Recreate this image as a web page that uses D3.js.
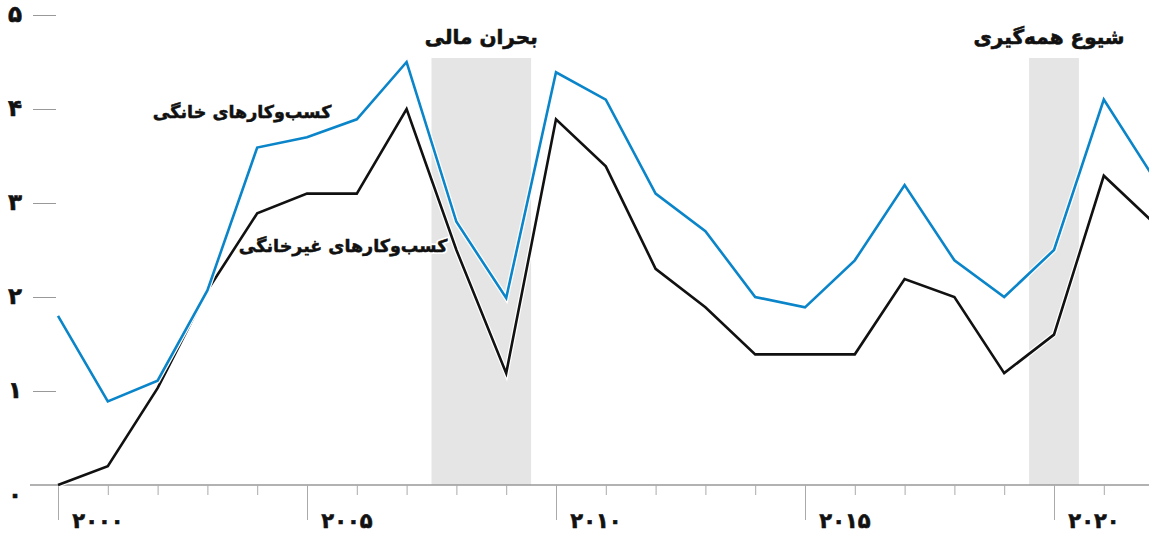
<!DOCTYPE html>
<html lang="fa">
<head>
  <meta charset="UTF-8">
  <title>کسب‌وکارهای خانگی</title>
  <style>
    body { margin: 0; background: #fff; }
    svg { display: block; }
    text { font-family: "DejaVu Sans", sans-serif; font-weight: bold; fill: #111; }
  </style>
</head>
<body>
  <svg id="chart" width="1149" height="533"></svg>
  <script src="https://cdn.jsdelivr.net/npm/d3@7/dist/d3.min.js"></script>
  <script>
    // years and values
    const years = d3.range(2000, 2023);
    const homeBased = [1.8, 0.89, 1.11, 2.07, 3.59, 3.7, 3.89, 4.5, 2.8, 1.99, 4.39, 4.1, 3.1, 2.7, 2.0, 1.89, 2.39, 3.19, 2.39, 2.0, 2.5, 4.1, 3.27];
    const nonHomeBased = [0.0, 0.2, 1.03, 2.07, 2.89, 3.1, 3.1, 4.0, 2.5, 1.19, 3.89, 3.39, 2.3, 1.89, 1.39, 1.39, 1.39, 2.19, 2.0, 1.19, 1.6, 3.29, 2.79];

    const yTicks = [0, 1, 2, 3, 4, 5];
    const yTickLabels = ["۰", "۱", "۲", "۳", "۴", "۵"];
    const majorYears = [2000, 2005, 2010, 2015, 2020];
    const majorYearLabels = ["۲۰۰۰", "۲۰۰۵", "۲۰۱۰", "۲۰۱۵", "۲۰۲۰"];

    const shades = [
      { from: 2007.5, to: 2009.5, label: "بحران مالی", labelAt: 2008.5 },
      { from: 2019.5, to: 2020.5, label: "شیوع همه‌گیری", labelAt: 2019.9 }
    ];

    const svg = d3.select("#chart");
    const x = d3.scaleLinear().domain([2000, 2022]).range([58, 1153.6]);
    const y = d3.scaleLinear().domain([0, 5]).range([485, 15]);

    // shaded periods
    svg.append("g").selectAll("rect").data(shades).join("rect")
      .attr("x", d => x(d.from))
      .attr("width", d => x(d.to) - x(d.from))
      .attr("y", 58)
      .attr("height", y(0) - 58)
      .attr("fill", "#e5e5e5");

    svg.append("g").selectAll("text").data(shades).join("text")
      .attr("x", d => x(d.labelAt))
      .attr("y", 44)
      .attr("text-anchor", "middle")
      .attr("font-size", 20)
      .attr("stroke", "#111").attr("stroke-width", 0.6)
      .text(d => d.label);

    // y axis
    const yAxis = svg.append("g")
      .attr("transform", "translate(56,0)")
      .call(d3.axisLeft(y).tickValues(yTicks.slice(1)).tickSize(23).tickFormat((d, i) => yTickLabels[i + 1]));
    yAxis.select(".domain").remove();
    yAxis.selectAll(".tick line").attr("stroke", "#999");
    yAxis.selectAll(".tick text")
      .attr("x", -41).attr("dy", "0.3em")
      .attr("text-anchor", "middle")
      .attr("font-size", 23)
      .attr("stroke", "#111").attr("stroke-width", 0.6)
      .style("font-family", "DejaVu Sans").style("font-weight", "bold").attr("fill", "#111");
    svg.append("text")
      .attr("x", 15).attr("y", y(0) + 18)
      .attr("text-anchor", "middle")
      .attr("font-size", 23)
      .attr("stroke", "#111").attr("stroke-width", 0.6)
      .text(yTickLabels[0]);

    // x axis
    svg.append("line")
      .attr("x1", 30).attr("x2", 1149)
      .attr("y1", y(0)).attr("y2", y(0))
      .attr("stroke", "#999").attr("stroke-width", 1.5);

    const xAxis = svg.append("g")
      .attr("transform", `translate(0,${y(0)})`)
      .call(d3.axisBottom(x).tickValues(years.slice(0, 22)).tickSize(10).tickFormat(""));
    xAxis.select(".domain").remove();
    xAxis.selectAll(".tick line")
      .attr("stroke", "#aaa")
      .attr("y2", d => majorYears.includes(d) ? 35 : 10);

    svg.append("g").selectAll("text").data(majorYears).join("text")
      .attr("x", d => x(d) + 40)
      .attr("y", 528)
      .attr("text-anchor", "middle")
      .attr("font-size", 21)
      .attr("stroke", "#111").attr("stroke-width", 0.6)
      .text((d, i) => majorYearLabels[i]);

    // lines
    const line = d3.line().x((d, i) => x(years[i])).y(d => y(d));
    const series = [
      { values: nonHomeBased, color: "#111" },
      { values: homeBased, color: "#0a85c9" }
    ];
    series.forEach(s => {
      svg.append("path").datum(s.values)
        .attr("d", line).attr("fill", "none")
        .attr("stroke", "#fff").attr("stroke-width", 5).attr("stroke-linejoin", "miter");
      svg.append("path").datum(s.values)
        .attr("d", line).attr("fill", "none")
        .attr("stroke", s.color).attr("stroke-width", 2.6).attr("stroke-linejoin", "miter");
    });

    // series labels
    const labels = [
      { text: "کسب‌وکارهای خانگی", x: 242, y: 118 },
      { text: "کسب‌وکارهای غیرخانگی", x: 343, y: 252 }
    ];
    const labelG = svg.append("g");
    labelG.selectAll("text.halo").data(labels).join("text")
      .attr("class", "halo")
      .attr("x", d => d.x).attr("y", d => d.y)
      .attr("text-anchor", "middle")
      .attr("font-size", 17.5)
      .attr("fill", "#fff").attr("stroke", "#fff").attr("stroke-width", 4)
      .text(d => d.text);
    labelG.selectAll("text.fg").data(labels).join("text")
      .attr("class", "fg")
      .attr("x", d => d.x).attr("y", d => d.y)
      .attr("text-anchor", "middle")
      .attr("font-size", 17.5)
      .attr("stroke", "#111").attr("stroke-width", 0.5)
      .text(d => d.text);
  </script>
</body>
</html>
